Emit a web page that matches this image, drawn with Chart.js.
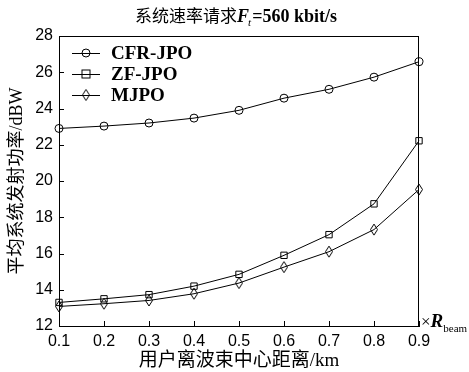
<!DOCTYPE html>
<html>
<head>
<meta charset="utf-8">
<script src="https://cdn.jsdelivr.net/npm/chart.js@4/dist/chart.umd.min.js"></script>
<style>
    html, body { margin: 0; padding: 0; background: #fff; }
    #wrap { width: 469px; height: 372px; position: relative; }
</style>
</head>
<body>
<div id="wrap"><canvas id="chart"></canvas></div>
<script>
const xLabels = ['0.1', '0.2', '0.3', '0.4', '0.5', '0.6', '0.7', '0.8', '0.9'];
const seriesNames = ['CFR-JPO', 'ZF-JPO', 'MJPO'];
const cfrJpo = [22.9, 23.03, 23.2, 23.47, 23.9, 24.57, 25.06, 25.73, 26.58];
const zfJpo = [13.3, 13.5, 13.73, 14.2, 14.85, 15.9, 17.04, 18.74, 22.22];
const mjpo = [13.08, 13.23, 13.41, 13.78, 14.37, 15.25, 16.1, 17.32, 19.53];

const titleCn = '系统速率请求';
const titleRest = '=560 kbit/s';
const yTitle = '平均系统发射功率/dBW';
const xTitle = '用户离波束中心距离/km';

const serif = '"Liberation Serif", "Noto Sans CJK SC", serif';
const sans = '"Liberation Sans", Arial, sans-serif';

// narrow diamond marker
function makeDiamond() {
    const c = document.createElement('canvas');
    c.width = 10; c.height = 13;
    const g = c.getContext('2d');
    g.strokeStyle = '#000';
    g.lineWidth = 1;
    g.beginPath();
    g.moveTo(5, 1); g.lineTo(8.5, 6.5); g.lineTo(5, 12); g.lineTo(1.5, 6.5); g.closePath();
    g.stroke();
    return c;
}
const diamond = makeDiamond();

const markers = ['circle', 'rect', diamond];
const radii = [4, 4.5, 5];

const decorPlugin = {
    id: 'decor',
    afterDraw(chart) {
        const ctx = chart.ctx;
        const a = chart.chartArea;
        const xs = chart.scales.x, ys = chart.scales.y;
        ctx.save();
        ctx.strokeStyle = '#000';
        ctx.lineWidth = 1;
        // box
        ctx.strokeRect(a.left + 0.5, a.top + 0.5, a.right - a.left - 1, a.bottom - a.top);
        // inner ticks
        ctx.beginPath();
        ys.ticks.forEach(t => {
            const y = Math.round(ys.getPixelForValue(t.value)) + 0.5;
            ctx.moveTo(a.left, y); ctx.lineTo(a.left + 5, y);
        });
        xs.ticks.forEach((t, i) => {
            const x = Math.round(xs.getPixelForValue(i)) + 0.5;
            ctx.moveTo(x, a.bottom); ctx.lineTo(x, a.bottom - 5);
        });
        ctx.stroke();

        // title
        ctx.fillStyle = '#000';
        ctx.textBaseline = 'alphabetic';
        const fCn = '17px ' + serif;
        const fF = 'italic bold 18px ' + serif;
        const fSub = 'italic 11px ' + serif;
        const fRest = 'bold 18px ' + serif;
        ctx.font = fCn; const w1 = ctx.measureText(titleCn).width;
        ctx.font = fF; const w2 = ctx.measureText('F').width;
        ctx.font = fSub; const w3 = ctx.measureText('t').width;
        ctx.font = fRest; const w4 = ctx.measureText(titleRest).width;
        let x = 236 - (w1 + w2 + w3 + w4) / 2;
        const by = 22;
        ctx.textAlign = 'left';
        ctx.font = fCn; ctx.fillText(titleCn, x, by); x += w1;
        ctx.font = fF; ctx.fillText('F', x, by); x += w2;
        ctx.font = fSub; ctx.fillText('t', x - 1, by + 4); x += w3;
        ctx.font = fRest; ctx.fillText(titleRest, x, by);

        // x unit note
        let nx = 421;
        const ny = 327;
        ctx.font = '17px ' + serif;
        ctx.fillText('×', nx, ny); nx += ctx.measureText('×').width;
        ctx.font = 'italic bold 19px ' + serif;
        ctx.fillText('R', nx, ny); nx += ctx.measureText('R').width;
        ctx.font = '11px ' + serif;
        ctx.fillText('beam', nx, ny + 5);

        // legend
        chart.data.datasets.forEach((ds, i) => {
            const ly = 53 + i * 21;
            ctx.beginPath();
            ctx.moveTo(72, ly + 0.5); ctx.lineTo(100, ly + 0.5);
            ctx.stroke();
            const mx = 86;
            if (i === 0) {
                ctx.beginPath(); ctx.arc(mx, ly, 4, 0, Math.PI * 2); ctx.stroke();
            } else if (i === 1) {
                ctx.strokeRect(mx - 4, ly - 4, 8, 8);
            } else {
                ctx.drawImage(diamond, mx - 5, ly - 6.5);
            }
            ctx.font = 'bold 19px ' + serif;
            ctx.textBaseline = 'middle';
            ctx.fillText(ds.label, 111, ly + 1);
            ctx.textBaseline = 'alphabetic';
        });
        ctx.restore();
    }
};

const ctx = document.getElementById('chart').getContext('2d');
new Chart(ctx, {
    type: 'line',
    data: {
        labels: xLabels,
        datasets: [cfrJpo, zfJpo, mjpo].map((d, i) => ({
            label: seriesNames[i],
            data: d,
            borderColor: '#000',
            borderWidth: 1,
            backgroundColor: 'transparent',
            pointStyle: markers[i],
            pointRadius: radii[i],
            pointBorderColor: '#000',
            pointBorderWidth: 1,
            pointBackgroundColor: 'transparent',
            tension: 0
        }))
    },
    options: {
        responsive: true,
        maintainAspectRatio: false,
        animation: false,
        devicePixelRatio: 1,
        layout: { padding: { top: 36, right: 50, left: 0, bottom: 0 } },
        plugins: { legend: { display: false }, tooltip: { enabled: false } },
        scales: {
            x: {
                type: 'category',
                offset: false,
                grid: { display: false, drawTicks: false },
                border: { color: '#000', width: 1 },
                ticks: { color: '#000', font: { family: sans, size: 16 }, padding: 6, maxRotation: 0 },
                title: { display: true, text: xTitle, color: '#000', font: { family: serif, size: 19 }, padding: { top: 0, bottom: 0 } },
                afterFit: s => { s.height = 46; }
            },
            y: {
                min: 12,
                max: 28,
                ticks: { stepSize: 2, color: '#000', font: { family: sans, size: 16 }, padding: 6 },
                grid: { display: false, drawTicks: false },
                border: { color: '#000', width: 1 },
                title: { display: true, text: yTitle, color: '#000', font: { family: serif, size: 18 }, padding: { top: 6, bottom: 0 } },
                afterFit: s => { s.width = 59; }
            }
        }
    },
    plugins: [decorPlugin]
});
</script>
</body>
</html>
